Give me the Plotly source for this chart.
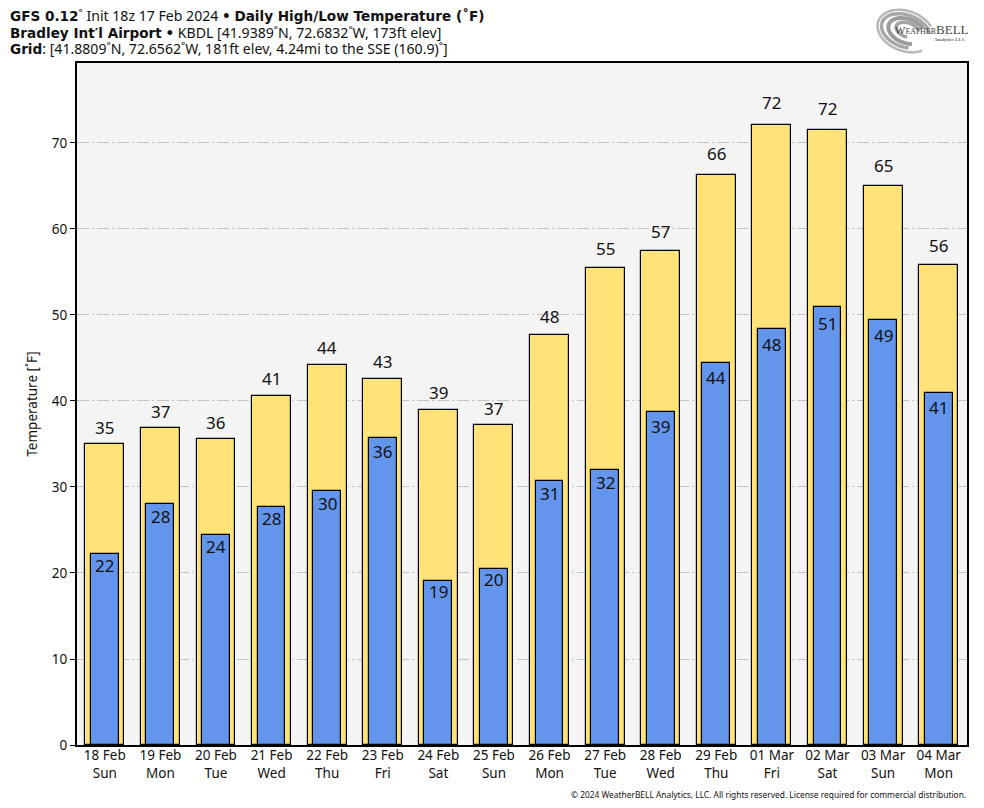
import math
import plotly.graph_objects as go

dates = ["18 Feb","19 Feb","20 Feb","21 Feb","22 Feb","23 Feb","24 Feb","25 Feb","26 Feb","27 Feb","28 Feb","29 Feb","01 Mar","02 Mar","03 Mar","04 Mar"]
days = ["Sun","Mon","Tue","Wed","Thu","Fri","Sat","Sun","Mon","Tue","Wed","Thu","Fri","Sat","Sun","Mon"]
highs = [35.0,36.9,35.6,40.6,44.2,42.6,39.0,37.2,47.7,55.5,57.4,66.3,72.1,71.5,65.0,55.8]
lows = [22.2,28.0,24.4,27.7,29.5,35.7,19.1,20.5,30.7,32.0,38.7,44.4,48.4,50.9,49.4,40.9]
high_labels = [35,37,36,41,44,43,39,37,48,55,57,66,72,72,65,56]
low_labels = [22,28,24,28,30,36,19,20,31,32,39,44,48,51,49,41]
y_ticks = [0,10,20,30,40,50,60,70]

FONT = "Noto Sans"
BOLD = "font-family:DejaVu Sans;font-weight:bold"
W, H = 984, 808
L, T = 76.5, 63
R, B = W-967.5, H-745
PW, PH = W-L-R, H-T-B

def px(x): return (x-L)/PW
def py(y): return (H-B-y)/PH

x_labels = [f"{d}<br>{w}" for d, w in zip(dates, days)]
x = list(range(len(dates)))

fig = go.Figure()
fig.add_trace(go.Bar(x=x, y=highs, width=0.7, marker=dict(color="#FFE278", line=dict(color="black", width=1.2)), hoverinfo="skip"))
fig.add_trace(go.Bar(x=x, y=lows, width=0.5, marker=dict(color="#6495ED", line=dict(color="black", width=1.2)), hoverinfo="skip"))

def ann(text, xx, yy, size, xanchor="left", color="#111", family=FONT):
    return dict(text=text, x=px(xx), y=py(yy), xref="paper", yref="paper", showarrow=False,
                xanchor=xanchor, yanchor="middle", font=dict(size=size, color=color, family=family), align="left",
                borderpad=0)

def b(t):
    return f"<span style='{BOLD};font-size:13.6px'>{t}</span>"

annotations = [
    ann(b("GFS 0.12") + "˚ Init 18z 17 Feb 2024 " + b("•") + " " + b("Daily High/Low Temperature (˚F)"), 8.8, 15, 14.1),
    ann(b("Bradley Int′l Airport") + " " + b("•") + " KBDL [41.9389˚N, 72.6832˚W, 173ft elev]", 8.8, 32, 14.1),
    ann(b("Grid") + ": [41.8809˚N, 72.6562˚W, 181ft elev, 4.24mi to the SSE (160.9)˚]", 8.8, 48.5, 14.1),
    ann("© 2024 WeatherBELL Analytics, LLC. All rights reserved. License required for commercial distribution.", 968, 794, 8.4, "right"),
    ann("W<span style='font-size:8px'>EATHER</span><span style='font-size:13px'>BELL</span>", 894, 29.5, 11, "left", "#444", "Liberation Serif"),
    ann("<b>Analytics LLC</b>", 968, 39, 5, "right", "#666", "Liberation Serif"),
]
for i, (yv, lab) in enumerate(zip(highs, high_labels)):
    annotations.append(dict(text=str(lab), x=i, y=yv, xref="x", yref="y", showarrow=False, yanchor="middle",
                            yshift=16 + (yv-35)*0.16, font=dict(size=17, color="#111", family=FONT)))
for i, (yv, lab) in enumerate(zip(lows, low_labels)):
    annotations.append(dict(text=str(lab), x=i, y=yv, xref="x", yref="y", showarrow=False, yanchor="middle",
                            yshift=-(11 + (yv-22)*0.17), font=dict(size=17, color="#111", family=FONT)))

def arc(cx, cy, a, c, rot, t0, t1, color, width):
    pts = []
    n = 40
    for k in range(n+1):
        t = math.radians(t0 + (t1-t0)*k/n)
        ex, ey = a*math.cos(t), c*math.sin(t)
        r = math.radians(rot)
        wx = cx + ex*math.cos(r) - ey*math.sin(r)
        wy = cy + ex*math.sin(r) + ey*math.cos(r)
        pts.append(f"{px(wx):.5f},{py(wy):.5f}")
    return dict(type="path", xref="paper", yref="paper", path="M" + " L".join(pts),
                line=dict(color=color, width=width), layer="below")

logo = [
    arc(906, 31, 29, 20, 20, 40, 320, "#b8b8b8", 2.5),
    arc(906, 31, 25, 16, 20, 70, 340, "#a8a8a8", 3.5),
    arc(907, 31, 19, 12, 20, 60, 320, "#9c9c9c", 4),
    arc(908, 30, 12, 7, 20, 80, 340, "#a4a4a4", 3.5),
]

fig.update_layout(
    width=W, height=H, barmode="overlay", showlegend=False, bargap=0,
    margin=dict(l=L, r=R, t=T, b=B, pad=0),
    paper_bgcolor="white", plot_bgcolor="#F4F4F4",
    font=dict(family=FONT, size=14, color="#111"),
    annotations=annotations, shapes=logo,
    xaxis=dict(range=[-0.5,15.51], tickvals=x, ticktext=x_labels, ticks="", showgrid=False, zeroline=False,
               showline=True, mirror=True, linecolor="black", linewidth=2, tickfont=dict(size=13.5), tickangle=0,
               ticklabelstandoff=-3),
    yaxis=dict(range=[0,79.3], tickvals=y_ticks, ticks="outside", ticklen=5, tickcolor="black", tickwidth=1.2,
               showgrid=True, gridcolor="#C4C4C4", griddash="12px,3px,2px,3px", gridwidth=1, zeroline=False,
               showline=True, mirror=True, linecolor="black", linewidth=2, tickfont=dict(size=13.5),
               title=dict(text="Temperature [˚F]", font=dict(size=13.5), standoff=11)),
)
fig.write_html("out.html", config={"displayModeBar": False}, post_script="document.body.style.margin='0';")
